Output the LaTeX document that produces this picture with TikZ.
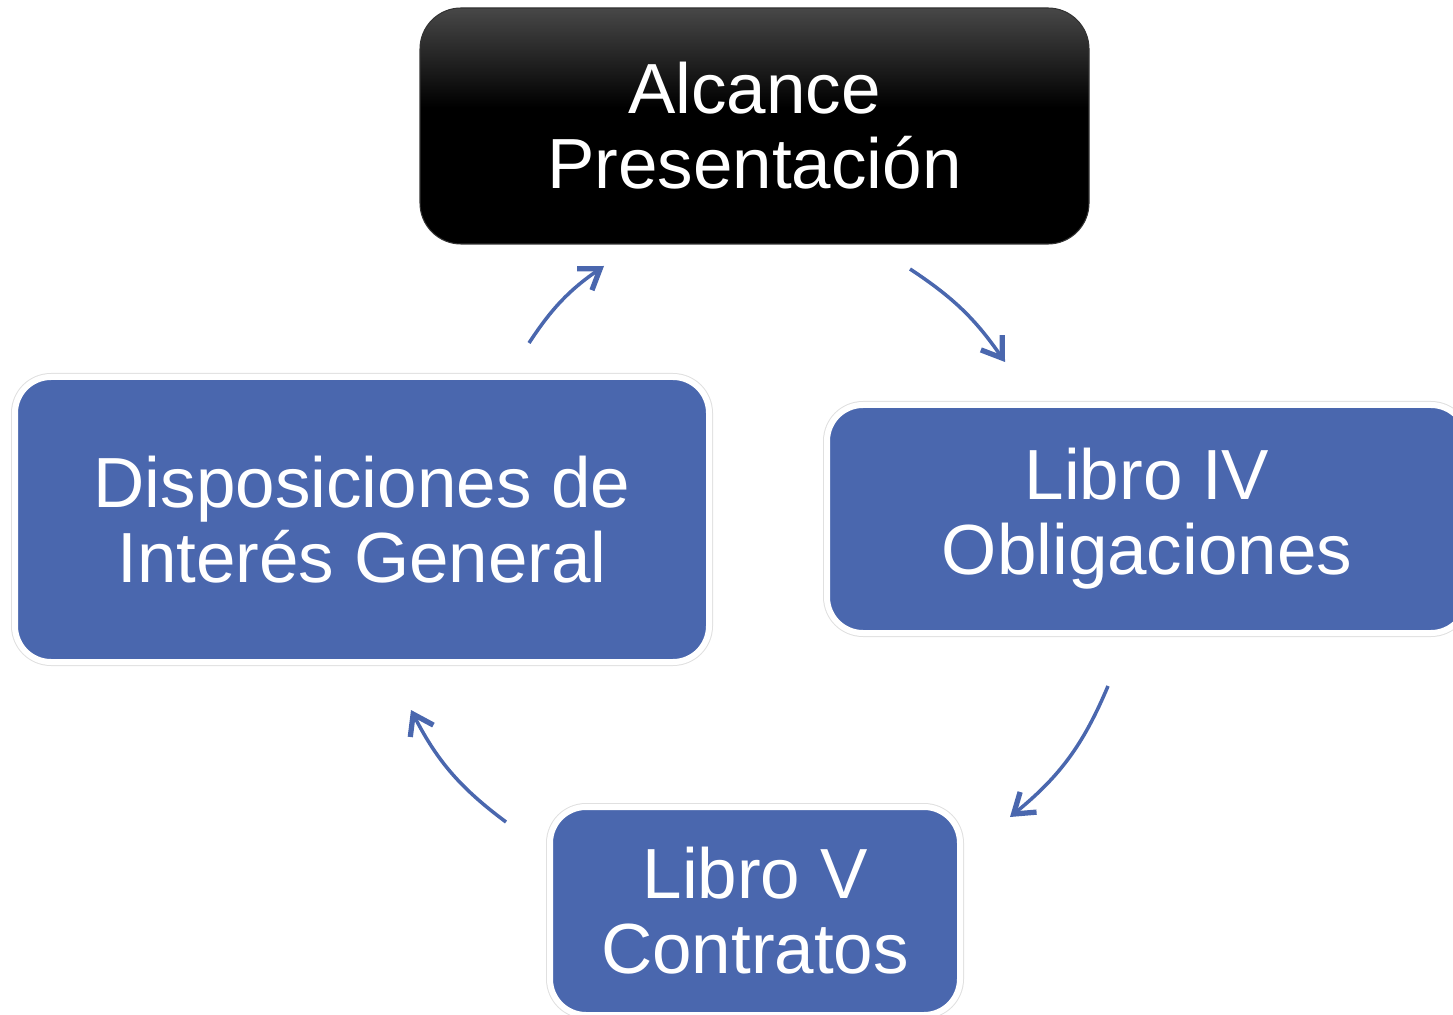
\documentclass[tikz,border=0pt]{standalone}
\usepackage{fontspec}
\setmainfont{Liberation Sans}
\usetikzlibrary{arrows.meta}
\definecolor{cicloazul}{HTML}{4A67AE}
\pgfdeclareverticalshading{sombranegra}{100bp}{color(0bp)=(black); color(54bp)=(black);
  color(75bp)=(black!72); color(100bp)=(black!72)}
\begin{document}
\begin{tikzpicture}[
    caja/.style={rounded corners=0.72cm, fill=cicloazul, draw=white, line width=0.12cm,
      preaction={draw=black!12, line width=0.16cm},
      text=white, align=center, font=\fontsize{40.4}{42.7}\selectfont},
    cajanegra/.style={rounded corners=0.82cm, shading=sombranegra, draw=black!80, line width=0.6pt,
      text=white, align=center, font=\fontsize{40.4}{42.7}\selectfont},
    flecha/.style={draw=cicloazul, line width=2pt,
      -{Straight Barb[length=3.8mm, width=5.2mm, line width=3pt]}}
  ]
      \useasboundingbox (0,0) rectangle (29.06,20.28);
      \clip (0,0) rectangle (29.06,20.28);

      %%% boxes %%%
      \node (alcance) at (15.09,17.76) [cajanegra, minimum width=13.38cm, minimum height=4.72cm]
        {Alcance\\Presentación};
      \node (libroIV) at (22.94,9.9) [caja, minimum width=12.8cm, minimum height=4.56cm]
        {Libro IV\\Obligaciones};
      \node (libroV) at (15.1,2.06) [caja, minimum width=8.2cm, minimum height=4.16cm]
        {Libro V\\Contratos};
      \node (dispo) at (7.24,9.89) [caja, minimum width=13.88cm, minimum height=5.7cm]
        {Disposiciones de\\Interés General};

      %%% arrow ends %%%
      \coordinate (a1) at (10.58,13.42);
      \coordinate (b1) at (12.08,14.96);
      \coordinate (a2) at (18.2,14.9);
      \coordinate (b2) at (20.1,13.04);
      \coordinate (a3) at (22.16,6.56);
      \coordinate (b3) at (20.2,3.94);
      \coordinate (a4) at (10.12,3.84);
      \coordinate (b4) at (8.22,6.08);

      \draw[flecha] (a1) to [bend left=11] (b1);
      \draw[flecha] (a2) to [bend left=11] (b2);
      \draw[flecha] (a3) to [bend left=14] (b3);
      \draw[flecha] (a4) to [bend left=13] (b4);

\end{tikzpicture}
\end{document}
